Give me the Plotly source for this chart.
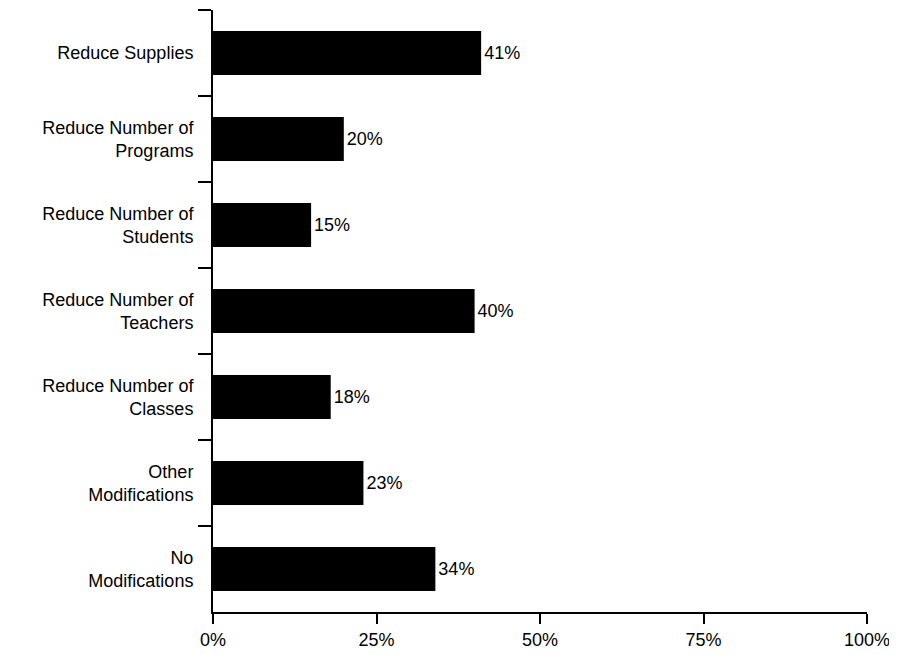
import plotly.graph_objects as go

categories = ["Reduce Supplies", "Reduce Number of<br>Programs", "Reduce Number of<br>Students",
              "Reduce Number of<br>Teachers", "Reduce Number of<br>Classes", "Other<br>Modifications",
              "No<br>Modifications"]
values = [41, 20, 15, 40, 18, 23, 34]
labels = ["41%", "20%", "15%", "40%", "18%", "23%", "34%"]
x_ticks = [0, 25, 50, 75, 100]
x_tick_labels = ["0%", "25%", "50%", "75%", "100%"]

FONT = "Liberation Sans, Arial, Helvetica, sans-serif"

fig = go.Figure(go.Bar(
    y=categories, x=values, orientation="h",
    marker=dict(color="black", line=dict(width=0)),
    width=0.51,
    text=labels, textposition="outside",
    textfont=dict(size=18, color="black", family=FONT),
    cliponaxis=False,
))

fig.update_layout(
    width=889, height=647,
    margin=dict(l=205, r=30, t=2, b=43, autoexpand=False),
    plot_bgcolor="white", paper_bgcolor="white",
    font=dict(family=FONT, size=18, color="black"),
    showlegend=False,
)
fig.update_xaxes(
    range=[0, 100], tickvals=x_ticks, ticktext=x_tick_labels,
    showline=True, linecolor="black", linewidth=2,
    ticks="outside", ticklen=10, tickwidth=2, tickcolor="black",
    showgrid=False, zeroline=False, fixedrange=True,
    automargin=False,
)
fig.update_yaxes(
    type="category", autorange="reversed", tickson="boundaries",
    showline=True, linecolor="black", linewidth=2,
    ticks="outside", ticklen=13, tickwidth=2, tickcolor="black",
    ticklabelstandoff=14,
    showgrid=False, zeroline=False, automargin=False,
)

fig.write_html("out.html")
